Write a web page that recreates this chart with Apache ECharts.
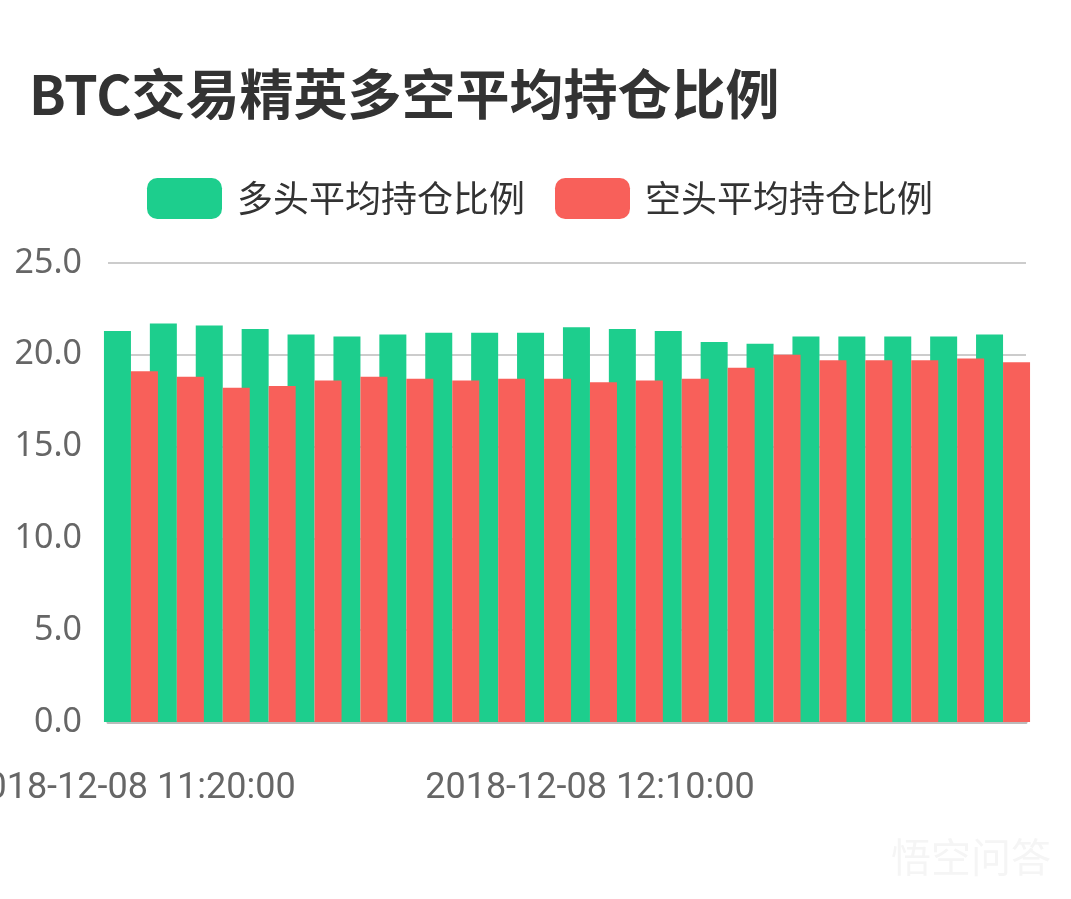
<!DOCTYPE html>
<html>
<head>
<meta charset="utf-8">
<script src="https://cdn.jsdelivr.net/npm/echarts@6/dist/echarts.min.js"></script>
<style>html,body{margin:0;padding:0;background:#fff;}#c{width:1071px;height:899px;}</style>
</head>
<body>
<div id="c"></div>
<script>
const categories = [
  '2018-12-08 11:20:00','2018-12-08 11:25:00','2018-12-08 11:30:00','2018-12-08 11:35:00',
  '2018-12-08 11:40:00','2018-12-08 11:45:00','2018-12-08 11:50:00','2018-12-08 11:55:00',
  '2018-12-08 12:00:00','2018-12-08 12:05:00','2018-12-08 12:10:00','2018-12-08 12:15:00',
  '2018-12-08 12:20:00','2018-12-08 12:25:00','2018-12-08 12:30:00','2018-12-08 12:35:00',
  '2018-12-08 12:40:00','2018-12-08 12:45:00','2018-12-08 12:50:00','2018-12-08 12:55:00'
];
const longRatio  = [21.3,21.7,21.6,21.4,21.1,21.0,21.1,21.2,21.2,21.2,21.5,21.4,21.3,20.7,20.6,21.0,21.0,21.0,21.0,21.1];
const shortRatio = [19.1,18.8,18.2,18.3,18.6,18.8,18.7,18.6,18.7,18.7,18.5,18.6,18.7,19.3,20.0,19.7,19.7,19.7,19.8,19.6];
const seriesNames = ['多头平均持仓比例','空头平均持仓比例'];
const titleText = 'BTC交易精英多空平均持仓比例';

const chart = echarts.init(document.getElementById('c'));
chart.setOption({
  backgroundColor: '#ffffff',
  animation: false,
  title: {
    text: titleText, left: 24, top: 62,
    textStyle: {fontSize: 54, fontWeight: 'bold', color: '#333333', fontFamily: 'Noto Sans CJK SC'}
  },
  legend: {
    data: seriesNames, top: 173, left: 142,
    icon: 'roundRect', itemWidth: 75, itemHeight: 41, itemGap: 30,
    textStyle: {fontSize: 36, color: '#333333', fontFamily: 'Noto Sans CJK SC', padding: [0,0,0,10]}
  },
  grid: {left: 108, right: 45, top: 263, bottom: 177, containLabel: false, outerBoundsMode: 'none'},
  xAxis: {
    type: 'category', data: categories,
    axisLine: {lineStyle: {color: '#bbbbbb', width: 3}},
    axisTick: {show: false},
    axisLabel: {interval: 9, fontSize: 36, color: '#666666', fontFamily: 'Roboto', margin: 49}
  },
  yAxis: {
    type: 'value', min: 0, max: 25, interval: 5,
    axisLine: {show: false}, axisTick: {show: false},
    axisLabel: {fontSize: 34, color: '#666666', fontFamily: 'Noto Sans', margin: 26,
      formatter: v => v.toFixed(1)},
    splitLine: {lineStyle: {color: '#cccccc', width: 2}}
  },
  series: [
    {name: seriesNames[0], type: 'bar', data: longRatio, barWidth: 27, barGap: '0%', clip: false, itemStyle: {color: '#1dce8d'}},
    {name: seriesNames[1], type: 'bar', data: shortRatio, barWidth: 27, barGap: '0%', clip: false, itemStyle: {color: '#f8605a'}}
  ],
  graphic: [{
    type: 'text', right: 20, bottom: 22,
    style: {text: '悟空问答', fontSize: 40, fill: '#f5f5f5', fontFamily: 'Noto Sans CJK SC'}
  }]
});
</script>
</body>
</html>
